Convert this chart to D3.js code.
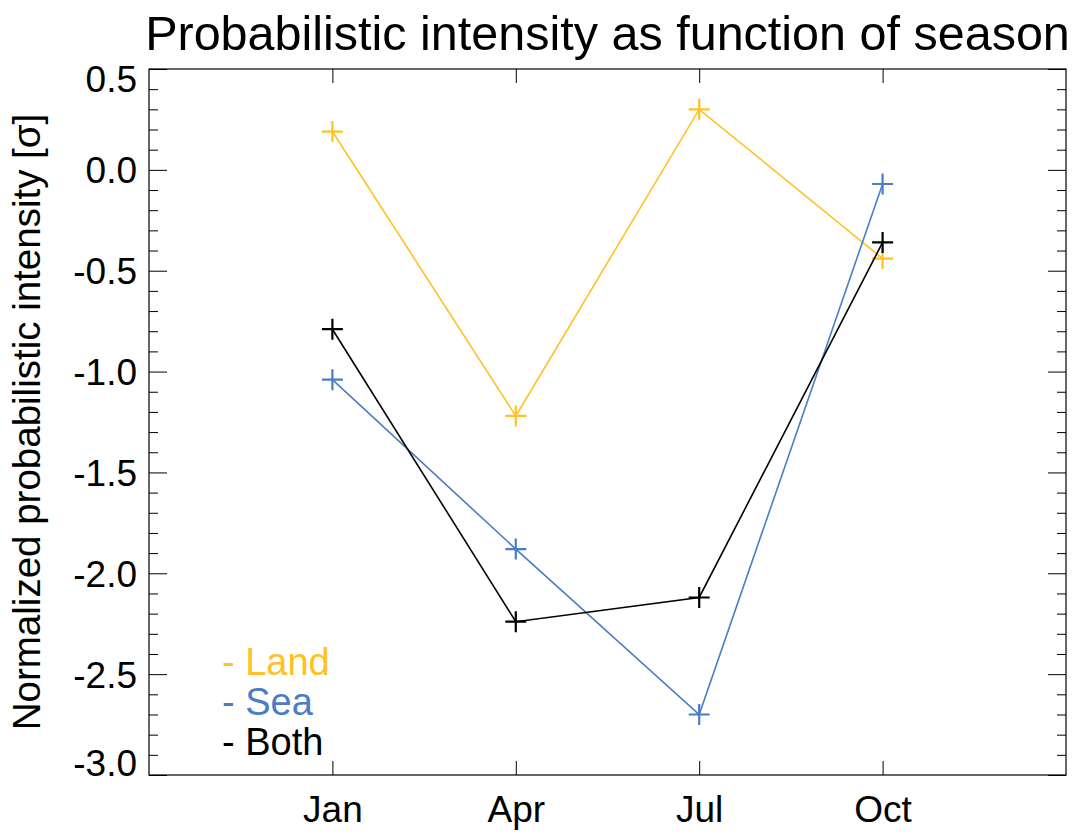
<!DOCTYPE html>
<html>
<head>
<meta charset="utf-8">
<script src="https://cdn.jsdelivr.net/npm/d3@7"></script>
<style>
  html, body { margin: 0; padding: 0; background: #fff; }
  text { font-family: "Liberation Sans", Arial, Helvetica, sans-serif; }
</style>
</head>
<body>
<svg id="chart" width="1075" height="835"></svg>
<script>
const months = ["Jan", "Apr", "Jul", "Oct"];
const monthPos = [1, 2, 3, 4];
const land = [0.19, -1.22, 0.30, -0.44];
const sea = [-1.04, -1.88, -2.70, -0.07];
const both = [-0.79, -2.24, -2.12, -0.36];
const yMajor = [0.5, 0.0, -0.5, -1.0, -1.5, -2.0, -2.5, -3.0];
const seriesNames = ["Land", "Sea", "Both"];
const seriesColors = ["#FFC125", "#4A7DC6", "#000000"];

const svg = d3.select("#chart");
const L = 149, R = 1066, T = 69, B = 775;
const x = d3.scaleLinear().domain([0, 5]).range([L, R]);
const y = d3.scaleLinear().domain([-3, 0.5]).range([B, T]);

const yMinor = d3.range(-30, 6).map(v => v / 10).filter(v => !yMajor.some(m => Math.abs(m - v) < 1e-9));
const fmt = d => (Math.abs(d) < 1e-9 ? 0 : d).toFixed(1);

function style(g) {
  g.select(".domain").remove();
  g.selectAll(".tick line").attr("stroke", "#000").attr("stroke-width", 1);
  g.selectAll("text").attr("fill", "#000").style("font-size", "37px");
}

// left axis major
const gl = svg.append("g").attr("transform", `translate(${L},0)`)
  .call(d3.axisLeft(y).tickValues(yMajor).tickSize(-18).tickPadding(12).tickFormat(fmt));
style(gl);
gl.selectAll(".tick text").attr("dy", d => d === 0.5 ? "0.6em" : (d === -3 ? "0.02em" : "0.35em"));
// left minor
const glm = svg.append("g").attr("transform", `translate(${L},0)`)
  .call(d3.axisLeft(y).tickValues(yMinor).tickSize(-9).tickFormat(""));
style(glm);
// right axis
const gr = svg.append("g").attr("transform", `translate(${R},0)`)
  .call(d3.axisRight(y).tickValues(yMajor).tickSize(-18).tickFormat(""));
style(gr);
const grm = svg.append("g").attr("transform", `translate(${R},0)`)
  .call(d3.axisRight(y).tickValues(yMinor).tickSize(-9).tickFormat(""));
style(grm);
// bottom axis
const gb = svg.append("g").attr("transform", `translate(0,${B})`)
  .call(d3.axisBottom(x).tickValues(monthPos).tickSize(-14).tickPadding(21).tickFormat((d, i) => months[i]));
style(gb);
// top axis
const gt = svg.append("g").attr("transform", `translate(0,${T})`)
  .call(d3.axisTop(x).tickValues(monthPos).tickSize(-14).tickFormat(""));
style(gt);

// frame
svg.append("rect").attr("x", L).attr("y", T).attr("width", R - L).attr("height", B - T)
  .attr("fill", "none").attr("stroke", "#000").attr("stroke-width", 1.2);

// series
const data = [land, sea, both];
const line = d3.line().x((d, i) => x(monthPos[i])).y(d => y(d));
data.forEach((vals, k) => {
  const c = seriesColors[k];
  svg.append("path").datum(vals).attr("d", line)
    .attr("fill", "none").attr("stroke", c).attr("stroke-width", 1.6);
  const s = 10.5;
  svg.append("g").selectAll("path.mk").data(vals).join("path")
    .attr("d", (d, i) => {
      const cx = x(monthPos[i]), cy = y(d);
      return `M${cx - s},${cy}H${cx + s}M${cx},${cy - s}V${cy + s}`;
    })
    .attr("stroke", c).attr("stroke-width", 2.2).attr("fill", "none");
});

// legend
seriesNames.forEach((n, k) => {
  svg.append("text").attr("x", 222).attr("y", 675 + k * 40)
    .attr("fill", seriesColors[k]).style("font-size", "38px").text("- " + n);
});

// title
svg.append("text").attr("x", (L + R) / 2).attr("y", 50).attr("text-anchor", "middle")
  .style("font-size", "48.5px").attr("fill", "#000")
  .text("Probabilistic intensity as function of season");

// y label
svg.append("text").attr("transform", `translate(40,${(T + B) / 2}) rotate(-90)`)
  .attr("text-anchor", "middle").style("font-size", "38.5px").attr("fill", "#000")
  .text("Normalized probabilistic intensity [σ]");
</script>
</body>
</html>
